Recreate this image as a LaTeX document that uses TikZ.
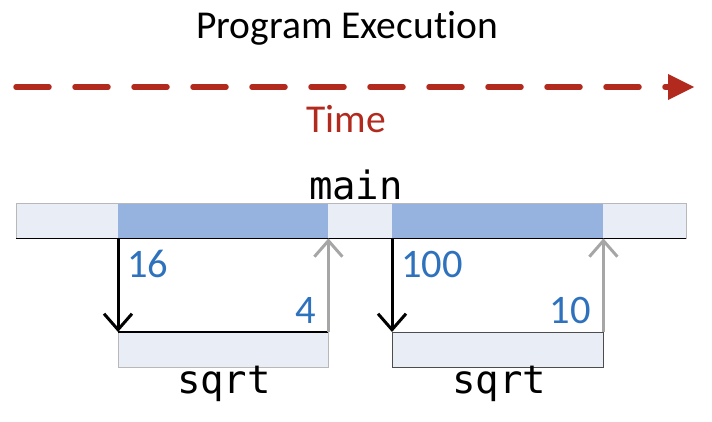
\documentclass[tikz,border=0pt]{standalone}
\usepackage{fontspec}
\setmainfont{Carlito}[Ligatures=CommonOff]
\setmonofont{DejaVu Sans Mono}
\usetikzlibrary{arrows.meta}
\definecolor{timered}{HTML}{B22A1E}
\definecolor{numblue}{HTML}{2E72BE}
\definecolor{barlight}{HTML}{E9EEF6}
\definecolor{barblue}{HTML}{95B3DE}
\definecolor{retgray}{HTML}{A6A6A6}
\tikzset{
  lbl/.style={inner sep=0pt, font=\fontsize{39.5}{46}\selectfont},
  code/.style={inner sep=0pt, font=\fontsize{39}{44}\selectfont\ttfamily},
  num/.style={inner sep=0pt, text=numblue, font=\fontsize{40.5}{46}\selectfont},
  seg/.style={draw=none, inner sep=0pt, minimum height=34pt, anchor=north west},
  callarrow/.style={line width=3pt, -{Straight Barb[length=16pt, width=28pt, line width=3pt]}},
  retarrow/.style={line width=3pt, retgray, -{Straight Barb[length=16pt, width=28pt, line width=3pt]}},
}
\begin{document}
\begin{tikzpicture}[x=1pt, y=-1pt]
\useasboundingbox (0,0) rectangle (712,422);
% title
\node[lbl] (title) at (347,28) {Program Execution};
% time arrow
\coordinate (ts) at (16,87);
\coordinate (te) at (668,87);
\coordinate (tip) at (694,87);
\draw[timered, line width=5.5pt, line cap=round, dash pattern=on 33pt off 26pt] (ts) -- (te);
\fill[timered] (668,74) -- (tip) -- (668,100) -- cycle;
\node[lbl, text=timered] (time) at (346,119) {Time};
% main bar
\node[code] (mainlbl) at (356,185) {main};
\node[seg, fill=barlight, minimum width=670pt] (main) at (16,204) {};
\node[seg, fill=barblue, minimum width=210pt] (act1) at (118,204) {};
\node[seg, fill=barblue, minimum width=211pt] (act2) at (392,204) {};
\draw[retgray!80, line width=1pt] (main.north west) rectangle (main.south east);
\draw[black, line width=1.2pt] (main.south west) -- (main.south east);
% sqrt boxes
\node[seg, fill=barlight, minimum width=210pt, minimum height=35pt] (sq1) at (118,332) {};
\node[seg, fill=barlight, minimum width=211pt, minimum height=35pt] (sq2) at (392,332) {};
\draw[retgray!80, line width=1pt] (sq1.north west) rectangle (sq1.south east);
\draw[black, line width=1.2pt] (sq1.north west) -- (sq1.north east);
\draw[black!70, line width=1pt] (sq2.north west) rectangle (sq2.south east);
\node[code] (sqlbl1) at (224,384) {sqrt};
\node[code] (sqlbl2) at (499,384) {sqrt};
% arrows
\draw[callarrow] (act1.south west) -- (sq1.north west);
\draw[retarrow] (sq1.north east) -- (act1.south east);
\draw[callarrow] (act2.south west) -- (sq2.north west);
\draw[retarrow] (sq2.north east) -- (act2.south east);
% numbers
\node[num, anchor=west] (n16) at (127,264) {16};
\node[num, anchor=east] (n4) at (316,310) {4};
\node[num, anchor=west] (n100) at (401,264) {100};
\node[num, anchor=east] (n10) at (591,310) {10};
\end{tikzpicture}
\end{document}
